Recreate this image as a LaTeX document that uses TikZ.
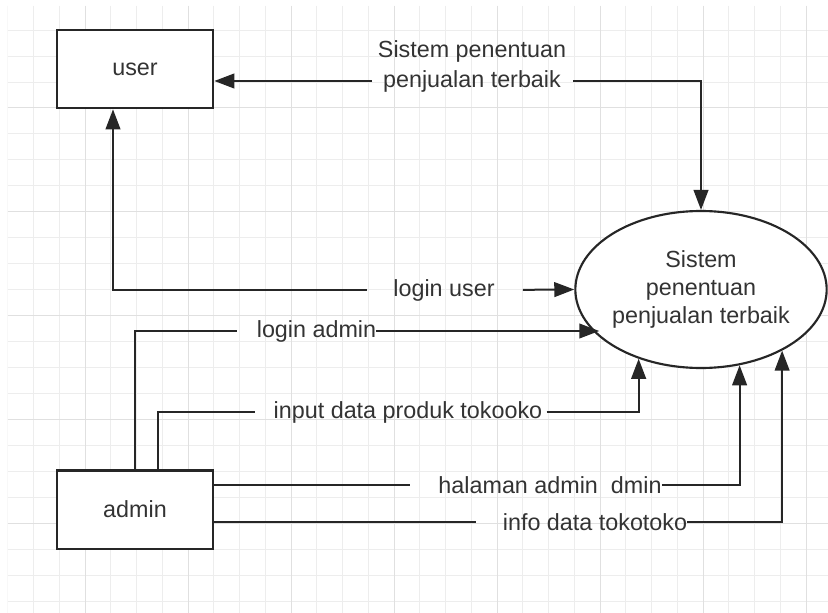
\documentclass[tikz,border=0pt]{standalone}
\usepackage{fontspec}
\setmainfont{Liberation Sans}
\usetikzlibrary{arrows.meta,shapes.geometric}
\begin{document}
\begin{tikzpicture}[x=0.75pt,y=-0.75pt,
  font=\fontsize{17.5}{21}\selectfont,
  ent/.style={draw=black!85, line width=2pt, minimum width=117pt, minimum height=58.5pt, fill=white, text=black!80, inner sep=0pt},
  proc/.style={ellipse, draw=black!85, line width=1.6pt, minimum width=156.75pt, minimum height=117.75pt, fill=white, inner sep=0pt, align=center, text=black!80},
  lbl/.style={inner sep=0pt, text=black!80},
  flow/.style={draw=black!85, line width=1.5pt},
  arr/.style={flow, -{Triangle[length=15pt,width=11pt]}},
  gminor/.style={draw=black!7, line width=0.75pt},
  gmajor/.style={draw=black!12, line width=0.75pt}]

\useasboundingbox (0,0) rectangle (828,613);
\fill[white] (0,0) rectangle (828,613);
\begin{scope}
  \clip (7.5,6) rectangle (828,613);
  \foreach \k in {0,...,31} \draw[gminor] ({85+(\k-3)*25.75},6) -- ({85+(\k-3)*25.75},613);
  \foreach \k in {-3,...,19} \draw[gminor] (7.5,{108+\k*25.95}) -- (828,{108+\k*25.95});
  \foreach \k in {0,...,7} \draw[gmajor] ({85+\k*103},6) -- ({85+\k*103},613);
  \foreach \k in {0,...,4} \draw[gmajor] (7.5,{108+\k*103.8}) -- (828,{108+\k*103.8});
\end{scope}

\node[ent] (user) at (135,69) {user};
\node[ent, minimum height=59pt] (admin) at (135,509.5) {admin};
\node[proc] (sys) at (701,289.5) {Sistem\\penentuan\\penjualan terbaik};

\node[lbl] (lblA2) at (472,51) {Sistem penentuan};
\node[lbl] (lblA) at (472,81) {penjualan terbaik};
\node[lbl] (lblB) at (444,290) {login user};
\node[lbl] (lblC) at (316.5,331) {login admin};
\node[lbl] (lblD) at (408,412) {input data produk tokooko};
\node[lbl] (lblE) at (550,485) {halaman admin\ \ dmin};
\node[lbl] (lblF) at (595,522) {info data tokotoko};

\coordinate (uin) at ([xshift=-16.5pt]user.south);
\coordinate (ain2) at ([xshift=17.25pt]admin.north);

\draw[arr, shorten <=8pt] (lblA.west) -- (lblA.west -| user.east);
\draw[arr, shorten <=9pt] (lblA.east) -| (sys.north);
\draw[arr, shorten <=19.5pt] (lblB.west) -| (uin);
\draw[arr, shorten <=21pt] (lblB.east) -- (sys.west);
\draw[flow, shorten >=15pt] (admin.north) |- (lblC.west);
\draw[arr] (lblC.east) -- (lblC.east -| sys.205);
\draw[flow, shorten >=14pt] (ain2) |- (lblD.west);
\draw[arr, shorten <=3pt] (lblD.east) -| (sys.228);
\draw[flow, shorten >=21pt] (admin.east |- lblE) -- (lblE.west);
\draw[arr] (lblE.east) -| (sys.297);
\draw[flow, shorten >=20pt] (admin.east |- lblF) -- (lblF.west);
\draw[arr] (lblF.east) -| (sys.323);
\end{tikzpicture}
\end{document}
